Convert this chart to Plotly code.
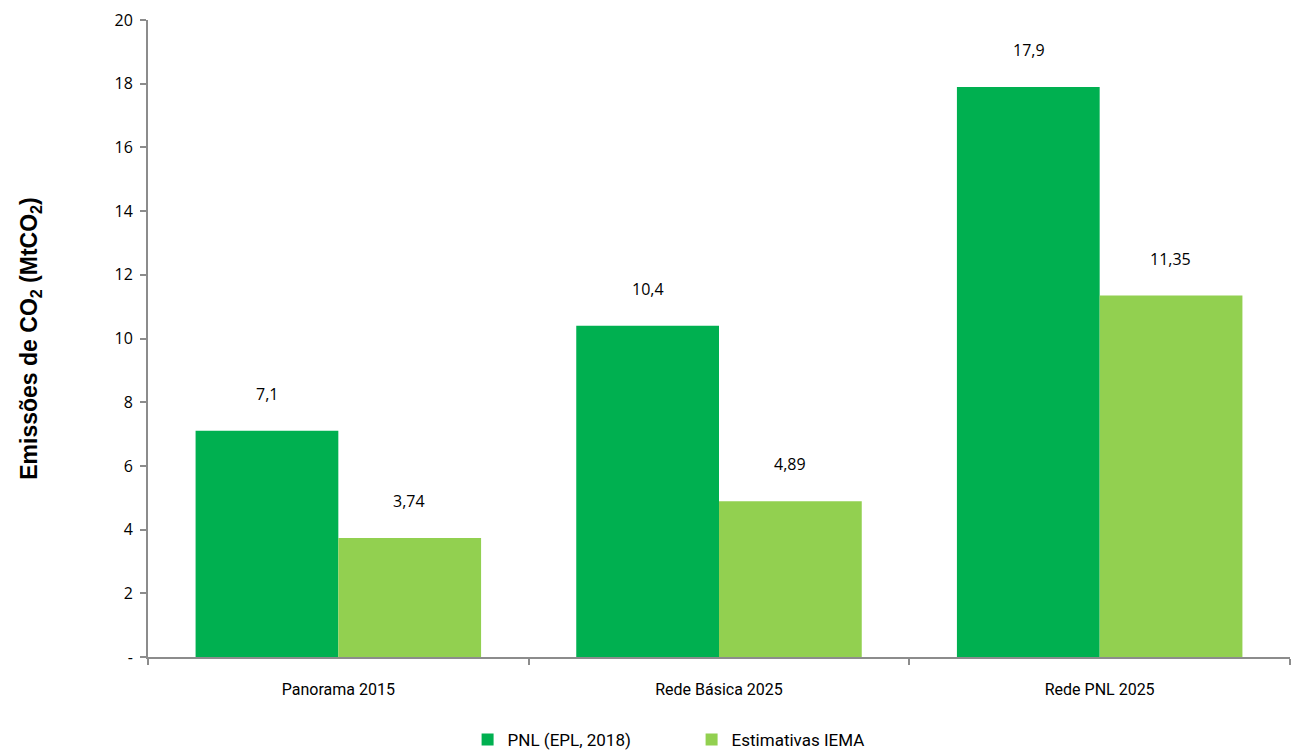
import plotly.graph_objects as go

categories = ["Panorama 2015", "Rede Básica 2025", "Rede PNL 2025"]
pnl_values = [7.1, 10.4, 17.9]
iema_values = [3.74, 4.89, 11.35]
pnl_labels = ["7,1", "10,4", "17,9"]
iema_labels = ["3,74", "4,89", "11,35"]
series_names = ["PNL (EPL, 2018)", "Estimativas IEMA"]
tick_vals = [0, 2, 4, 6, 8, 10, 12, 14, 16, 18, 20]
tick_text = ["-", "2", "4", "6", "8", "10", "12", "14", "16", "18", "20"]

DARK = "#00B050"
LIGHT = "#92D050"
AXIS = "#8C8C8C"

fig = go.Figure()
fig.add_trace(go.Bar(x=categories, y=pnl_values, name=series_names[0],
                     marker=dict(color=DARK, line=dict(width=0))))
fig.add_trace(go.Bar(x=categories, y=iema_values, name=series_names[1],
                     marker=dict(color=LIGHT, line=dict(width=0))))

for cat, v, t in zip(categories, pnl_values, pnl_labels):
    fig.add_annotation(x=cat, y=v, text=t, xref="x", yref="y", showarrow=False,
                       xshift=-71, yshift=37, font=dict(size=16, color="#000000", family="Open Sans"))
for cat, v, t in zip(categories, iema_values, iema_labels):
    fig.add_annotation(x=cat, y=v, text=t, xref="x", yref="y", showarrow=False,
                       xshift=71, yshift=37, font=dict(size=16, color="#000000", family="Open Sans"))

fig.update_layout(
    width=1291, height=743,
    margin=dict(l=140, r=9, t=12, b=94, autoexpand=False),
    paper_bgcolor="white", plot_bgcolor="white",
    barmode="group", bargap=0.25, bargroupgap=0,
    font=dict(family="Open Sans", size=16, color="#000000"),
    legend=dict(orientation="h", x=0.476, xanchor="center", yref="container", y=0.015,
                yanchor="middle", font=dict(size=17, family="Roboto"),
                entrywidth=179, entrywidthmode="pixels",
                traceorder="normal", itemsizing="constant"),
    xaxis=dict(showline=True, linecolor=AXIS, linewidth=2, ticks="outside",
               tickcolor=AXIS, ticklen=6, tickwidth=2, showgrid=False, automargin=False,
               tickson="boundaries", tickfont=dict(size=16, family="Roboto"), ticklabelstandoff=17),
    yaxis=dict(range=[0, 20], tickvals=tick_vals, ticktext=tick_text, automargin=False,
               showline=True, linecolor=AXIS, linewidth=2, ticks="outside",
               tickcolor=AXIS, ticklen=6, tickwidth=2, showgrid=False, zeroline=False,
               tickfont=dict(size=16, family="Open Sans"), ticklabelstandoff=4,
               title=dict(text="<b>Emissões de CO<sub>2</sub> (MtCO<sub>2</sub>)</b>",
                          font=dict(size=23, family="Liberation Sans"), standoff=70)),
)

fig.write_html("out.html")
